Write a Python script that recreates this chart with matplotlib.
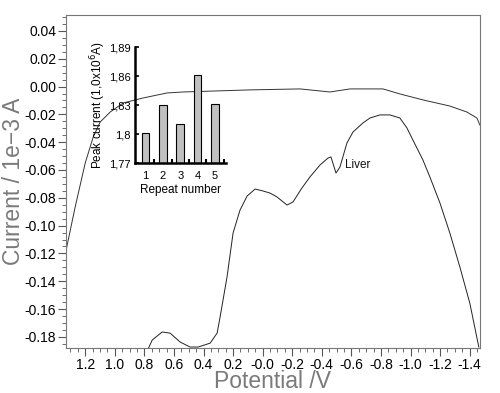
import numpy as np
import matplotlib
matplotlib.use('Agg')
import matplotlib.pyplot as plt
from matplotlib.ticker import MultipleLocator, FixedLocator

plt.rcParams['font.family'] = ['Liberation Sans', 'DejaVu Sans']
plt.rcParams['axes.unicode_minus'] = False

# forward scan (lower curve)
fwd_v = [0.78, 0.747, 0.680, 0.626, 0.558, 0.491, 0.436, 0.355, 0.308, 0.288,
         0.241, 0.200, 0.153, 0.105, 0.051, -0.003, -0.050, -0.097, -0.165, -0.205,
         -0.266, -0.320, -0.388, -0.442, -0.462, -0.496, -0.523, -0.570, -0.611, -0.678,
         -0.726, -0.793, -0.861, -0.928, -0.976, -1.016, -1.084, -1.131, -1.199, -1.266,
         -1.334, -1.401, -1.462]
fwd_i = [-0.190, -0.1823, -0.1765, -0.1773, -0.1837, -0.1873, -0.1873, -0.1845, -0.1773, -0.1658,
         -0.137, -0.1053, -0.0888, -0.0787, -0.0737, -0.0751, -0.0766, -0.0794, -0.0852, -0.083,
         -0.0729, -0.065, -0.0564, -0.0514, -0.0506, -0.0622, -0.0578, -0.0406, -0.0327, -0.0262,
         -0.0226, -0.0204, -0.0204, -0.0226, -0.0298, -0.0384, -0.0528, -0.065, -0.0837, -0.1053,
         -0.1298, -0.1557, -0.1873]

# return scan (upper curve)
rev_v = [1.33, 1.268, 1.200, 1.146, 1.099, 1.031, 0.943, 0.808, 0.646, 0.538,
         0.085, -0.253, -0.455, -0.591, -0.814, -0.928, -1.084, -1.266, -1.381, -1.449,
         -1.469]
rev_i = [-0.118, -0.0866, -0.055, -0.0363, -0.0255, -0.0183, -0.0118, -0.0082, -0.0046, -0.0039,
         -0.0024, -0.0017, -0.0039, -0.0017, -0.0017, -0.0053, -0.0096, -0.014, -0.0183, -0.0226,
         -0.0276]

xticks = [1.2, 1.0, 0.8, 0.6, 0.4, 0.2, 0.0, -0.2, -0.4, -0.6, -0.8, -1.0, -1.2, -1.4]
xtick_labels = ['1.2', '1.0', '0.8', '0.6', '0.4', '0.2', '-0.0', '-0.2', '-0.4',
                '-0.6', '-0.8', '-1.0', '-1.2', '-1.4']
yticks = [0.04, 0.02, 0.00, -0.02, -0.04, -0.06, -0.08, -0.10, -0.12, -0.14, -0.16, -0.18]

# inset
repeat = [1, 2, 3, 4, 5]
peak = [1.801, 1.830, 1.810, 1.861, 1.831]
inset_yticks = [1.77, 1.80, 1.83, 1.86, 1.89]
inset_ylabels = ['1,77', '1,8', '1,83', '1,86', '1,89']

fig = plt.figure(figsize=(5.0, 3.93), dpi=100)
ax = fig.add_axes([0.132, 0.1145, 0.828, 0.8475])

ax.plot(rev_v, rev_i, color='#333333', lw=0.7)
ax.plot(fwd_v, fwd_i, color='#222222', lw=0.7)
ax.set_xlim(1.33, -1.47)
ax.set_ylim(-0.188, 0.0515)

ax.xaxis.set_major_locator(FixedLocator(xticks))
ax.set_xticklabels(xtick_labels)
ax.xaxis.set_minor_locator(MultipleLocator(0.05))
ax.yaxis.set_major_locator(FixedLocator(yticks))
ax.set_yticklabels(['%.2f' % t for t in yticks])
ax.yaxis.set_minor_locator(MultipleLocator(0.005))
ax.tick_params(which='major', length=6, width=0.8, color='#555555', labelsize=10, pad=1)
ax.tick_params(which='minor', length=3, width=0.6, color='#555555')
for s in ax.spines.values():
    s.set_color('#777777')
    s.set_linewidth(0.8)

ax.set_xlabel('Potential /V', fontsize=16.5, color='#7a7a7a', labelpad=-1)
ax.set_ylabel('Current / 1e\u22123 A', fontsize=16.5, color='#7a7a7a', labelpad=0)
ax.text(-0.645, -0.0564, 'Liver', fontsize=8.5, ha='center', va='center', color='#111111')

ins = fig.add_axes([0.27, 0.585, 0.182, 0.295])
ins.patch.set_alpha(0)
ins.bar(repeat, peak, width=0.43, color='#c0c0c0', edgecolor='black', lw=0.8)
ins.set_xlim(0.4, 5.63)
ins.set_ylim(1.77, 1.89)
ins.spines['top'].set_visible(False)
ins.spines['right'].set_visible(False)
ins.spines['left'].set_linewidth(1.8)
ins.spines['bottom'].set_linewidth(1.8)
ins.set_xticks(repeat)
ins.set_xticks([1.5, 2.5, 3.5, 4.5, 5.5], minor=True)
ins.tick_params(axis='x', which='major', length=0, labelsize=8, pad=6)
ins.tick_params(axis='x', which='minor', direction='in', length=3, width=1.5)
ins.set_yticks(inset_yticks)
ins.set_yticklabels(inset_ylabels)
ins.tick_params(axis='y', direction='in', length=3, width=1.2, labelsize=8, pad=3)
ins.set_xlabel('Repeat number', fontsize=8.5, labelpad=2)
ins.set_ylabel('Peak current (1,0x10$^{6}$A)', fontsize=8.5, labelpad=1)

fig.savefig('out.png', dpi=100)
